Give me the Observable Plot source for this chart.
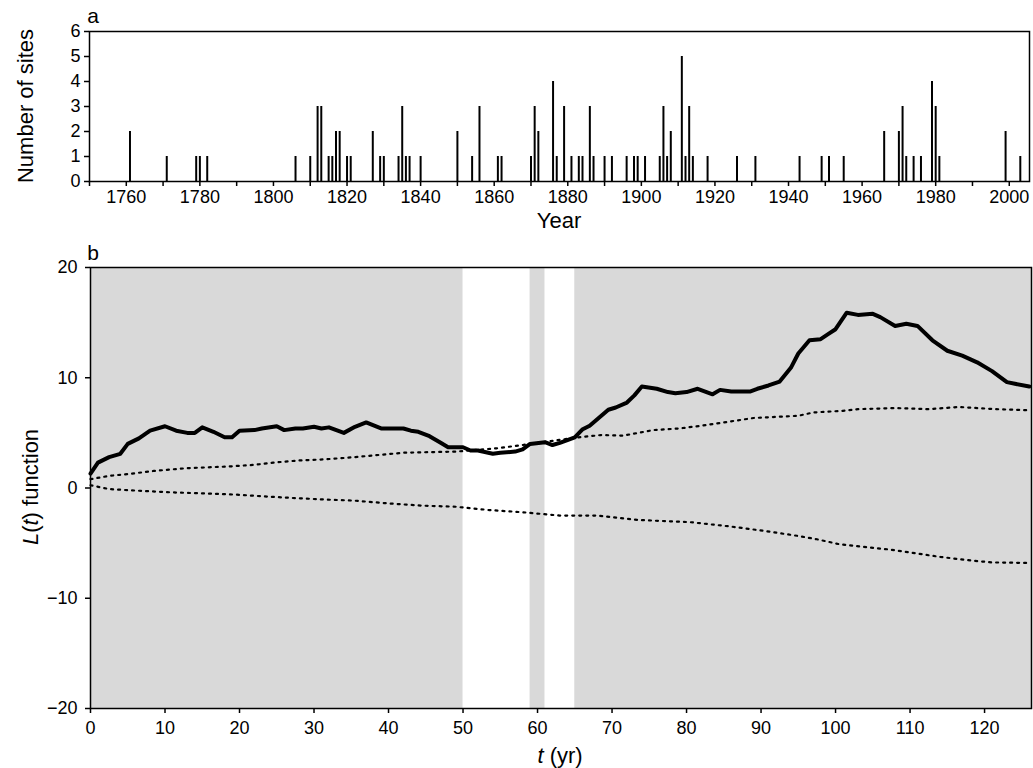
<!DOCTYPE html>
<html><head><meta charset="utf-8">
<script src="https://cdn.jsdelivr.net/npm/d3@7"></script>
<script src="https://cdn.jsdelivr.net/npm/@observablehq/plot@0.6"></script>
<style>
body{margin:0;background:#fff;font-family:"Liberation Sans",Arial,Helvetica,sans-serif;}
#wrap{position:relative;width:1033px;height:768px;overflow:hidden;}
#wrap svg{position:absolute;left:0;overflow:visible;}
</style></head><body><div id="wrap"></div>
<script>
// ---- Panel a: number of sites per year ----
const barYears  = [1761,1771,1779,1780,1782,1806,1810,1812,1813,1815,1816,1817,1818,1820,1821,1827,1829,1830,1834,1835,1836,1837,1840,1850,1854,1856,1861,1862,1870,1871,1872,1876,1877,1879,1881,1883,1884,1886,1887,1890,1892,1896,1898,1899,1901,1905,1906,1907,1908,1911,1912,1913,1914,1918,1926,1931,1943,1949,1951,1955,1966,1970,1971,1972,1974,1976,1979,1980,1981,1999,2003];
const barCounts = [2,1,1,1,1,1,1,3,3,1,1,2,2,1,1,2,1,1,1,3,1,1,1,2,1,3,1,1,1,3,2,4,1,3,1,1,1,3,1,1,1,1,1,1,1,1,3,1,2,5,1,3,1,1,1,1,1,1,1,1,2,2,3,1,1,1,4,3,1,2,1];
const yearLabelTicks = [1760,1780,1800,1820,1840,1860,1880,1900,1920,1940,1960,1980,2000];
const yearMinorTicks = [1750,1770,1790,1810,1830,1850,1870,1890,1910,1930,1950,1970,1990];
const siteTicks = [0,1,2,3,4,5,6];

// ---- Panel b: L(t) function ----
const tSolid = [0,1,2.5,4,5,6.5,8,10,11.5,13,14,15,16.5,18,19,20,22,23,25,26,27.5,28.5,30,31,32,34,35.5,37,39,42,43,44,45.5,47,48,50,51,52,54,55,57,58,59,61,62,63,65,66,67,69.5,70.5,72,73,74,76,77.5,78.5,80,81.5,83.5,84.5,86,88.5,89.5,91,92.5,94,95,96.5,98,99,100,101.5,103,105,106,108,109.5,111,113,115,117,119,121,123,126];
const LSolid = [1.3,2.3,2.8,3.1,4.0,4.5,5.2,5.6,5.2,5.0,5.0,5.5,5.1,4.6,4.6,5.2,5.25,5.4,5.6,5.25,5.4,5.4,5.55,5.4,5.5,5.0,5.55,5.95,5.4,5.4,5.2,5.1,4.7,4.1,3.7,3.7,3.4,3.4,3.1,3.2,3.3,3.5,4.0,4.15,3.9,4.1,4.6,5.3,5.65,7.1,7.3,7.75,8.4,9.2,9.0,8.7,8.6,8.7,9.0,8.5,8.9,8.75,8.75,9.0,9.3,9.65,10.9,12.2,13.4,13.5,13.95,14.4,15.9,15.7,15.8,15.5,14.7,14.9,14.7,13.4,12.45,12.0,11.4,10.6,9.6,9.2];
const tUpper = [0,2.5,5.5,8.5,13,18.5,22,24.5,28,31.5,35.5,42,49,54.5,58,65.5,68.5,71.5,75.5,79,82,85,89,92,95,97,101,103,108,112.5,116.5,121.5,126];
const LUpper = [0.8,1.1,1.3,1.55,1.8,1.95,2.1,2.3,2.5,2.6,2.8,3.2,3.3,3.6,3.9,4.6,4.8,4.75,5.25,5.4,5.65,5.95,6.35,6.45,6.55,6.85,7.0,7.15,7.25,7.15,7.35,7.15,7.05];
const tLower = [0,2.5,6.5,11,15.5,19.5,23,27,31.5,35.5,40,44.5,49,53.5,58,63,68,73.5,80.5,86,90.5,95,97.5,100.5,107.5,114,118.5,121,126];
const LLower = [0.25,-0.1,-0.25,-0.4,-0.5,-0.6,-0.75,-0.9,-1.05,-1.15,-1.4,-1.6,-1.7,-2.0,-2.2,-2.5,-2.5,-2.9,-3.1,-3.5,-3.9,-4.35,-4.65,-5.1,-5.6,-6.25,-6.6,-6.75,-6.8];
const bandStart = [0,59,65];
const bandEnd   = [50,61,126.3];
const tTicks = [0,10,20,30,40,50,60,70,80,90,100,110,120];
const LTicks = [-20,-10,0,10,20];

const FONT = '"Liberation Sans", Arial, Helvetica, sans-serif';
const wrap = document.getElementById("wrap");

// ---------- Panel a ----------
const bars = barYears.map((y,i)=>({year:y, n:barCounts[i]}));
const plotA = Plot.plot({
  width:1033, height:235,
  marginLeft:89, marginRight:4, marginTop:31, marginBottom:54,
  style:{fontSize:"18px", fontFamily:FONT, color:"black", background:"transparent"},
  x:{domain:[1750,2005.5]},
  y:{domain:[0,6]},
  marks:[
    Plot.ruleX(bars,{x:"year", y1:0, y2:"n", stroke:"black", strokeWidth:2}),
    Plot.frame({stroke:"black", strokeWidth:1.5}),
    Plot.axisX({ticks:yearMinorTicks, tickSize:5, tickFormat:()=>"", label:null, strokeWidth:1.5}),
    Plot.axisX({ticks:yearLabelTicks, tickSize:5, tickPadding:4, tickFormat:d=>String(d), label:null, strokeWidth:1.5}),
    Plot.axisY({ticks:siteTicks, tickSize:5, tickPadding:4, tickFormat:d=>String(d), label:null, strokeWidth:1.5})
  ]
});
plotA.style.top = "0px";
wrap.appendChild(plotA);
const sa = d3.select(plotA);
sa.append("text").attr("x",93).attr("y",23).attr("font-size",21).attr("font-family",FONT).attr("fill","black").text("a");
sa.append("text").attr("transform","translate(33,106) rotate(-90)").attr("text-anchor","middle")
  .attr("font-size",22).attr("font-family",FONT).attr("fill","black").text("Number of sites");
sa.append("text").attr("x",559).attr("y",228).attr("text-anchor","middle")
  .attr("font-size",22).attr("font-family",FONT).attr("fill","black").text("Year");

// ---------- Panel b ----------
const solid = tSolid.map((t,i)=>({t, L:LSolid[i]}));
const upper = tUpper.map((t,i)=>({t, L:LUpper[i]}));
const lower = tLower.map((t,i)=>({t, L:LLower[i]}));
const bands = bandStart.map((s,i)=>({s, e:bandEnd[i]}));
const plotB = Plot.plot({
  width:1033, height:533,
  marginLeft:90, marginRight:2, marginTop:32, marginBottom:60,
  style:{fontSize:"18px", fontFamily:FONT, color:"black", background:"transparent"},
  x:{domain:[0,126.3]},
  y:{domain:[-20,20]},
  marks:[
    Plot.rect(bands,{x1:"s", x2:"e", y1:-20, y2:20, fill:"#d9d9d9"}),
    Plot.line(upper,{x:"t", y:"L", stroke:"black", strokeWidth:2.2, strokeDasharray:"2,5"}),
    Plot.line(lower,{x:"t", y:"L", stroke:"black", strokeWidth:2.2, strokeDasharray:"2,5"}),
    Plot.line(solid,{x:"t", y:"L", stroke:"black", strokeWidth:4, strokeLinejoin:"round", strokeLinecap:"round"}),
    Plot.frame({stroke:"black", strokeWidth:1.5}),
    Plot.axisX({ticks:tTicks, tickSize:5, tickPadding:8, tickFormat:d=>String(d), label:null, strokeWidth:1.5}),
    Plot.axisY({ticks:LTicks, tickSize:5, tickPadding:8, tickFormat:d=>d<0?"\u2212"+(-d):String(d), label:null, strokeWidth:1.5})
  ]
});
plotB.style.top = "235px";
wrap.appendChild(plotB);
const sb = d3.select(plotB);
sb.append("text").attr("x",93).attr("y",25).attr("font-size",21).attr("font-family",FONT).attr("fill","black").text("b");
const yl = sb.append("text").attr("transform","translate(38,252) rotate(-90)").attr("text-anchor","middle")
  .attr("font-size",22).attr("font-family",FONT).attr("fill","black");
yl.append("tspan").attr("font-style","italic").text("L");
yl.append("tspan").text("(");
yl.append("tspan").attr("font-style","italic").text("t");
yl.append("tspan").text(") function");
const xl = sb.append("text").attr("x",560).attr("y",528).attr("text-anchor","middle")
  .attr("font-size",22).attr("font-family",FONT).attr("fill","black");
xl.append("tspan").attr("font-style","italic").text("t");
xl.append("tspan").text(" (yr)");
</script></body></html>
